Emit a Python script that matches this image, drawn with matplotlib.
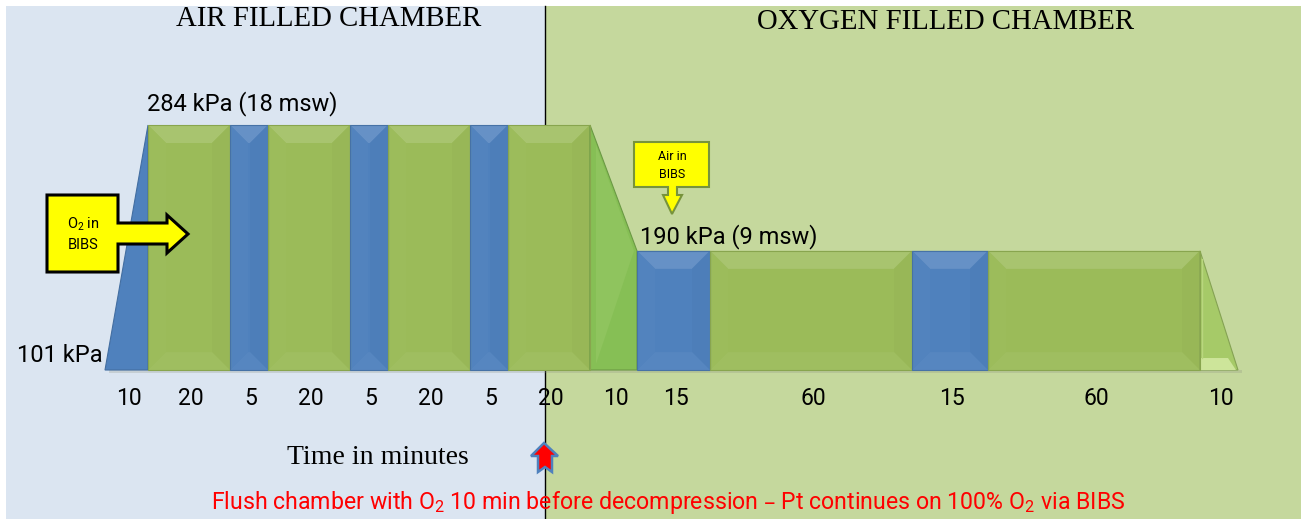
# HBO treatment table: compression, O2 / air periods at 284 and 190 kPa, decompression

import matplotlib.pyplot as plt
import matplotlib.transforms as mtransforms
from matplotlib.patches import Polygon, Rectangle

# treatment segments (minutes) and what the patient breathes in each
durations = [10, 20, 5, 20, 5, 20, 5, 20, 10, 15, 60, 15, 60, 10]
gas = ['air', 'o2', 'air', 'o2', 'air', 'o2', 'air', 'o2', 'o2', 'air', 'o2', 'air', 'o2', 'o2']
# chamber pressure (kPa) at the end of each segment, starting from surface
surface_kpa = 101
end_kpa = [284, 284, 284, 284, 284, 284, 284, 284, 190, 190, 190, 190, 190, 101]

level_labels = ['101 kPa', '284 kPa (18 msw)', '190 kPa (9 msw)']
chamber_titles = ['AIR FILLED CHAMBER', 'OXYGEN FILLED CHAMBER']
xlabel = 'Time in minutes'
note = ('Flush chamber with $\\mathregular{O_2}$ 10 min before decompression \u2013 '
        'Pt continues on 100% $\\mathregular{O_2}$ via BIBS')

# schematic widths of the segments on the time axis (not to scale)
slot_w = [43, 82, 38, 82, 38, 82, 38, 82, 47, 73, 202, 76, 212, 38]
x_start = 105

W, H = 1301, 519
BG_AIR = '#dbe5f1'
BG_O2 = '#c5d89d'
BLUE = '#4f81bd'
GREEN = '#9bbb59'
SANS = ['Roboto', 'DejaVu Sans']
SERIF = ['Liberation Serif', 'DejaVu Serif']

fig = plt.figure(figsize=(W / 100, H / 100), dpi=100)
fig.patch.set_facecolor('white')
ax = fig.add_axes((0, 0, 1, 1))
ax.set_xlim(0, W)
ax.set_ylim(-10.3, 377.4)  # kPa
ax.axis('off')

# pixel transform measured from the top-left corner, for the annotations
P = mtransforms.Affine2D().scale(1 / W, -1 / H).translate(0, 1) + fig.transFigure

# kPa per pixel, to keep the bevel square on screen
kpp = (ax.get_ylim()[1] - ax.get_ylim()[0]) / H

# chamber backgrounds and divider
split_x = 545
ax.add_patch(Rectangle((6, 6), split_x - 6, H - 6, transform=P, facecolor=BG_AIR,
                       edgecolor='none', zorder=0))
ax.add_patch(Rectangle((split_x, 6), W - split_x, H - 6, transform=P, facecolor=BG_O2,
                       edgecolor='none', zorder=0))
ax.plot([split_x, split_x], [6, H], transform=P, color='black', lw=1.0, zorder=1)


def shade(c, f):
    r, g, b = [int(c[i:i + 2], 16) / 255 for i in (1, 3, 5)]
    if f >= 0:
        r, g, b = [v + (1 - v) * f for v in (r, g, b)]
    else:
        r, g, b = [v * (1 + f) for v in (r, g, b)]
    return (r, g, b)


def bevel_block(x0, x1, y0, y1, color, b_px=18):
    b = min(b_px, (x1 - x0) / 2)
    by = b * kpp
    faces = [
        ([(x0, y1), (x1, y1), (x1 - b, y1 - by), (x0 + b, y1 - by)], 0.13),    # top
        ([(x0, y0), (x0, y1), (x0 + b, y1 - by), (x0 + b, y0 + by)], 0.015),   # left
        ([(x1, y0), (x1, y1), (x1 - b, y1 - by), (x1 - b, y0 + by)], -0.02),   # right
        ([(x0, y0), (x1, y0), (x1 - b, y0 + by), (x0 + b, y0 + by)], 0.04),    # bottom
    ]
    ax.add_patch(Rectangle((x0, y0), x1 - x0, y1 - y0, facecolor=color,
                           edgecolor='none', zorder=3))
    for pts, f in faces:
        ax.add_patch(Polygon(pts, closed=True, facecolor=shade(color, f),
                             edgecolor='none', zorder=3))
    ax.add_patch(Rectangle((x0, y0), x1 - x0, y1 - y0, facecolor='none',
                           edgecolor=shade(color, -0.12), lw=0.8, zorder=4))


# faint shadow under the profile
edges = [x_start]
for w in slot_w:
    edges.append(edges[-1] + w)
ax.add_patch(Rectangle((edges[0] + 4, surface_kpa - 3 * kpp), edges[-1] - edges[0], 3 * kpp,
                       facecolor='#8a8f80', alpha=0.25, edgecolor='none', zorder=2))

p_prev = surface_kpa
for i, (dur, g, p) in enumerate(zip(durations, gas, end_kpa)):
    x0, x1 = edges[i], edges[i + 1]
    color = BLUE if g == 'air' else GREEN
    if p > p_prev:
        # compression ramp
        ax.add_patch(Polygon([(x0, p_prev), (x1, p), (x1, surface_kpa)], closed=True,
                             facecolor=BLUE, edgecolor=shade(BLUE, -0.15), lw=0.8, zorder=3))
    elif p < p_prev and p > surface_kpa:
        # decompression to the 9 msw stop
        ax.add_patch(Polygon([(x0, surface_kpa), (x0, p_prev), (x1, p), (x1, surface_kpa)],
                             closed=True, facecolor='#86bf55', edgecolor=shade('#86bf55', -0.2),
                             lw=0.8, zorder=3))
        ax.add_patch(Polygon([(x0 + 6, p_prev - 20 * kpp), (x1 - 3, p), (x0 + 6, surface_kpa + 6 * kpp)],
                             closed=True, facecolor='#8fc45e', edgecolor='none', zorder=3))
    elif p < p_prev:
        # final ascent to surface
        ax.add_patch(Polygon([(x0, p_prev), (x1, surface_kpa), (x0, surface_kpa)], closed=True,
                             facecolor='#a6ca68', edgecolor=shade('#a6ca68', -0.2), lw=0.8, zorder=3))
        ax.add_patch(Polygon([(x0 + 1, surface_kpa), (x1 - 2, surface_kpa),
                              (x1 - 10, surface_kpa + 12 * kpp), (x0 + 1, surface_kpa + 12 * kpp)],
                             closed=True, facecolor='#cde59a', edgecolor='none', zorder=3))
        ax.plot([x0 + 2, x0 + 2], [surface_kpa + 12 * kpp, p_prev - 8 * kpp], color='#b9d67e',
                lw=1.0, zorder=3)
    else:
        bevel_block(x0, x1, surface_kpa, p, color)
    p_prev = p

    ax.text((x0 + x1) / 2 + 2, surface_kpa - 28 * kpp, str(dur), ha='center', va='center',
            fontsize=16.5, family=SANS, color='black', zorder=7)

# pressure level labels
ax.text(edges[0] - 2, surface_kpa + 15 * kpp, level_labels[0], ha='right', va='center',
        fontsize=17, family=SANS)
ax.text(edges[1] - 1, end_kpa[1] + 21 * kpp, level_labels[1], ha='left', va='center',
        fontsize=17, family=SANS)
ax.text(edges[9] + 3, end_kpa[9] + 14 * kpp, level_labels[2], ha='left', va='center',
        fontsize=17, family=SANS)

# chamber titles
ax.text(329, 19, chamber_titles[0], transform=P, ha='center', va='center',
        fontsize=20.7, family=SERIF)
ax.text(946, 22, chamber_titles[1], transform=P, ha='center', va='center',
        fontsize=20.7, family=SERIF)

# O2 in BIBS callout (box with arrow to the right)
o2_call = [(47, 195), (118, 195), (118, 223), (167, 223), (167, 215), (188, 234),
           (167, 253), (167, 244), (118, 244), (118, 272), (47, 272)]
ax.add_patch(Polygon(o2_call, closed=True, transform=P, facecolor='#ffff00',
                     edgecolor='black', lw=2.2, zorder=8))
ax.text(83, 224, 'O$\\mathregular{_2}$ in', transform=P, ha='center', va='center',
        fontsize=10.5, family=SANS, zorder=9)
ax.text(83, 245, 'BIBS', transform=P, ha='center', va='center',
        fontsize=10.5, family=SANS, zorder=9)

# Air in BIBS callout (box with arrow down)
air_call = [(634, 142), (709, 142), (709, 187), (677, 187), (677, 195), (682, 195),
            (672, 214), (663, 195), (668, 195), (668, 187), (634, 187)]
ax.add_patch(Polygon(air_call, closed=True, transform=P, facecolor='#ffff00',
                     edgecolor='#77933c', lw=1.5, zorder=8))
ax.text(672, 156, 'Air in', transform=P, ha='center', va='center',
        fontsize=9, family=SANS, zorder=9)
ax.text(672, 175, 'BIBS', transform=P, ha='center', va='center',
        fontsize=9, family=SANS, zorder=9)

# axis caption
ax.text(378, 458, xlabel, transform=P, ha='center', va='center', fontsize=20, family=SERIF)

# flush marker arrow
flush = [(544, 443), (558, 456), (552, 456), (552, 472), (545, 467), (538, 472),
         (538, 456), (531, 456)]
ax.add_patch(Polygon(flush, closed=True, transform=P, facecolor='#ff0000',
                     edgecolor='#4f81bd', lw=1.8, zorder=8))

ax.text(668, 502, note, transform=P, ha='center', va='center', fontsize=16.7,
        family=SANS, color='#ff0000', zorder=9)

fig.savefig('out.png', dpi=100, facecolor=fig.get_facecolor())
